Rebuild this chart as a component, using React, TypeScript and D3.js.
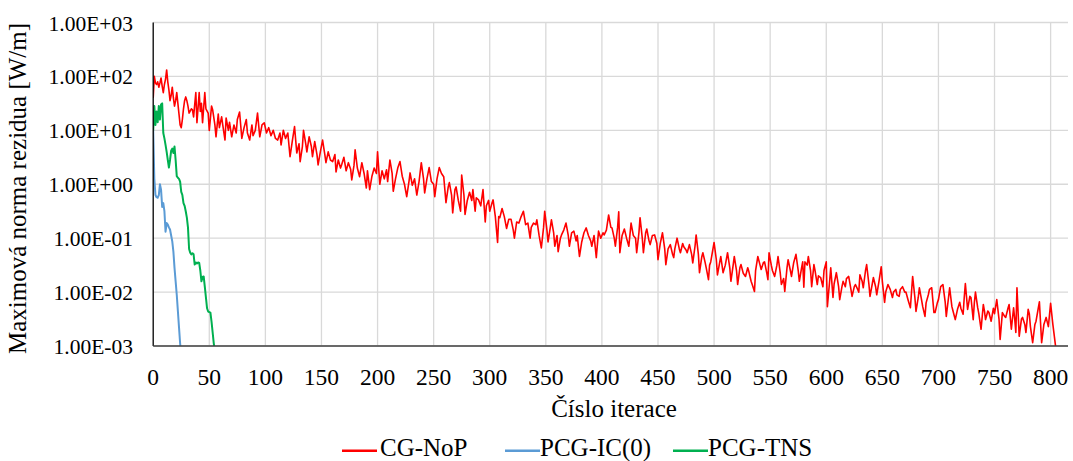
import React from "react";
import * as d3 from "d3";

// ---- data (residuals stored as log10 values) ----
const xTickValues = [0, 50, 100, 150, 200, 250, 300, 350, 400, 450, 500, 550, 600, 650, 700, 750, 800];
const yTickValues = [1e-3, 1e-2, 1e-1, 1e0, 1e1, 1e2, 1e3];
const yTickLabels = ["1.00E-03", "1.00E-02", "1.00E-01", "1.00E+00", "1.00E+01", "1.00E+02", "1.00E+03"];
const seriesNames = ["CG-NoP", "PCG-IC(0)", "PCG-TNS"];
const seriesColors = ["#FF0000", "#5B9BD5", "#00B050"];

// CG-NoP: [iteration, log10(residual)]
const cgNoP: [number, number][] = [
  [0,1.6],[1,2.0],[2,1.88],[3,1.85],[4,1.9],[5,1.8],[6,1.88],[7,1.97],[8,1.82],[9,1.7],[10,1.85],[11,1.95],[12,2.12],[13,1.9],[14,1.75],[15,1.55],[16,1.65],[17,1.8],[18,1.6],[19,1.45],[20,1.55],[21,1.7],[22,1.5],[23,1.3],[24,1.1],[25,1.05],[26,1.2],[27,1.4],[28,1.55],[29,1.62],[30,1.55],[31,1.45],[32,1.32],[34,1.4],[35,1.38],[36,1.25],[38,1.7],[39,1.14],[41,1.7],[42,1.35],[43,1.5],[44,1.14],[46,1.7],[47,1.4],[49,1.32],[50,1.0],[52,1.45],[53,1.38],[55,1.1],[56,0.88],[58,1.3],[59,1.05],[61,1.25],[62,1.1],[64,0.82],[65,1.23],[67,1.0],[68,1.15],[70,0.88],[72,1.1],[74,0.95],[75,1.2],[77,1.34],[79,0.85],[81,1.05],[83,1.2],[84,0.95],[86,0.82],[88,1.1],[89,0.9],[91,1.0],[93,1.32],[95,0.88],[97,1.1],[99,1.14],[101,0.95],[103,1.05],[105,0.9],[107,1.0],[109,0.85],[111,0.82],[113,0.95],[114,0.73],
  [116,1.0],[118,0.85],[120,0.95],[122,0.51],[124,0.8],[126,1.07],[128,0.58],[130,0.75],[131,0.42],[133,0.7],[134,1.0],[136,0.75],[137,0.6],[139,0.88],[141,0.7],[142,0.51],[144,0.79],[146,0.55],[147,0.36],[149,0.6],[151,0.82],[153,0.55],[154,0.4],[156,0.6],[158,0.45],[160,0.42],[162,0.55],[163,0.23],[165,0.45],[167,0.3],[168,0.36],[170,0.5],[172,0.25],[174,0.4],[176,0.28],[177,0.08],[179,0.35],[180,0.64],[182,0.3],[184,0.14],[186,0.4],[188,0.2],[190,-0.07],[191,0.25],[193,-0.1],[195,0.15],[197,0.3],[199,0.2],[200,0.6],[202,0.0],[204,0.25],[206,0.1],[208,0.27],[209,0.05],[211,0.45],[213,0.2],[214,-0.13],[216,0.1],[218,0.3],[220,0.42],[222,0.15],[224,0.0],[226,-0.23],[228,0.05],[229,0.21],
  [231,-0.02],[233,0.1],[235,-0.2],[237,0.05],[239,0.4],[241,0.1],[242,-0.16],[244,0.1],[246,0.31],[248,0.05],[250,0.0],[251,-0.23],[253,0.1],[255,0.31],[257,0.2],[259,0.14],[261,-0.34],[263,-0.05],[264,0.03],[266,-0.2],[267,-0.53],[269,-0.1],[270,-0.05],[272,-0.3],[274,-0.5],[275,0.17],[277,-0.2],[278,-0.56],[280,-0.3],[282,-0.15],[284,-0.3],[285,-0.1],[287,-0.5],[288,-0.25],[290,-0.29],[292,-0.4],[294,-0.1],[296,-0.7],[297,-0.4],[299,-0.3],[300,-0.5],[302,-0.35],[303,-0.29],[305,-0.6],[307,-1.08],[308,-0.6],[309,-0.62],[311,-0.45],[313,-0.6],[315,-0.82],[317,-0.65],[319,-0.65],[321,-0.85],[322,-1.0],[324,-0.7],[326,-0.72],[328,-0.6],[330,-0.5],[332,-0.75],[334,-0.72],[336,-1.0],[337,-0.8],[339,-0.72],[341,-0.75],[342,-0.66],[344,-0.95],[346,-1.18],
  [348,-0.8],[349,-0.5],[351,-0.85],[352,-1.07],[354,-0.8],[355,-0.66],[357,-0.9],[358,-1.15],[360,-0.95],[361,-1.25],[363,-1.0],[364,-0.94],[366,-0.85],[368,-0.72],[370,-0.95],[371,-1.15],[373,-0.9],[375,-0.87],[377,-1.05],[378,-0.95],[380,-1.34],[382,-1.07],[384,-0.9],[386,-0.81],[388,-0.95],[390,-1.05],[391,-1.15],[393,-0.95],[395,-1.36],[397,-0.87],[399,-1.0],[401,-0.9],[402,-0.94],[404,-0.85],[406,-0.57],[408,-0.8],[409,-0.81],[411,-1.0],[412,-1.15],[414,-0.8],[415,-0.51],[416,-1.27],[418,-0.95],[420,-0.83],[422,-1.0],[424,-1.15],[426,-0.72],[428,-0.95],[430,-1.0],[431,-1.27],[433,-0.9],[434,-0.62],[436,-1.0],[437,-1.27],[439,-0.9],[440,-0.83],[442,-1.05],[443,-1.12],[445,-0.95],[447,-0.94],[449,-1.1],[450,-1.4],[452,-1.1],[454,-0.9],[456,-1.2],[457,-1.49],[459,-1.2],[461,-1.12],[463,-1.3],[464,-1.36],
  [465,-1.2],[467,-1.0],[469,-1.2],[470,-1.27],[472,-1.1],[473,-1.16],[475,-1.22],[476,-1.27],[478,-1.12],[480,-1.3],[481,-1.46],[483,-1.15],[484,-0.94],[486,-1.3],[487,-1.64],[489,-1.35],[490,-1.27],[492,-1.45],[493,-1.55],[495,-1.77],[496,-1.5],[497,-1.44],[499,-1.2],[500,-1.08],[502,-1.4],[503,-1.68],[505,-1.45],[506,-1.34],[508,-1.64],[510,-1.5],[512,-1.27],[514,-1.55],[515,-1.8],[517,-1.5],[518,-1.34],[520,-1.6],[521,-1.86],[523,-1.55],[524,-1.49],[526,-1.65],[528,-1.71],[530,-1.55],[531,-1.62],[533,-1.8],[534,-1.86],[536,-1.99],[537,-1.6],[539,-1.34],[541,-1.5],[542,-1.58],[544,-1.45],[545,-1.44],[547,-1.65],[548,-1.77],[549,-1.27],[551,-1.5],[552,-1.6],[554,-1.71],[556,-1.5],[557,-1.34],[559,-1.65],[560,-1.86],[562,-1.75],[563,-1.99],[565,-1.55],[566,-1.4],[568,-1.6],[569,-1.71],[571,-1.45],[573,-1.3],[575,-1.6],[576,-1.8],[578,-1.55],[579,-1.44],
  [580,-1.91],[581,-1.44],[583,-1.5],[584,-1.34],[586,-1.6],[587,-1.9],[589,-1.49],[590,-1.6],[592,-1.86],[593,-1.7],[595,-1.73],[597,-1.9],[598,-1.6],[600,-1.44],[601,-2.27],[603,-1.8],[604,-1.55],[606,-2.1],[607,-1.85],[609,-1.64],[611,-1.9],[612,-2.14],[614,-1.9],[615,-1.8],[617,-1.9],[618,-1.75],[620,-1.71],[622,-1.95],[623,-2.08],[625,-1.9],[626,-1.86],[628,-1.95],[629,-2.0],[630,-1.68],[632,-1.8],[633,-1.92],[635,-1.6],[636,-1.49],[638,-1.85],[639,-2.08],[641,-1.85],[642,-1.73],[644,-1.9],[645,-2.05],[647,-1.8],[649,-1.53],[650,-1.8],[652,-2.19],[653,-2.0],[655,-1.86],[657,-1.95],[659,-2.1],[660,-2.0],[662,-1.95],[663,-2.05],[665,-2.08],[666,-1.95],[668,-1.9],[670,-2.0],[671,-2.0],[673,-2.15],[675,-2.29],[676,-2.0],[677,-1.71],[679,-2.1],[680,-2.36],[682,-2.1],[683,-1.92],[685,-2.15],[686,-2.27],[688,-2.45],[689,-2.2],[691,-2.05],[692,-1.95],[694,-1.92],[696,-2.38],
  [697,-2.38],[699,-2.2],[700,-2.14],[702,-1.9],[704,-1.86],[706,-2.18],[707,-2.45],[709,-2.1],[710,-1.92],[712,-2.27],[713,-2.35],[715,-2.51],[717,-2.32],[719,-2.19],[720,-2.3],[722,-2.41],[723,-2.1],[724,-1.84],[726,-2.32],[728,-2.08],[729,-2.1],[731,-2.51],[732,-2.2],[733,-2.0],[735,-2.29],[736,-2.4],[738,-2.69],[740,-2.23],[741,-2.35],[742,-2.51],[744,-2.35],[745,-2.38],[747,-2.54],[749,-2.3],[750,-2.4],[752,-2.14],[754,-2.5],[755,-2.88],[757,-2.38],[759,-2.45],[760,-2.47],[762,-2.3],[763,-2.23],[765,-2.69],[767,-2.29],[768,-2.5],[769,-2.75],[770,-1.92],[772,-2.82],[774,-2.5],[775,-2.47],[777,-2.6],[778,-2.75],[780,-2.32],[781,-2.4],[782,-2.64],[784,-2.94],[786,-2.6],[787,-2.54],[789,-2.3],[790,-2.18],[792,-2.94],[794,-2.6],[796,-2.47],[798,-2.64],[800,-2.21],[802,-2.6],[805,-3.1],
];

// PCG-IC(0): log10(residual) for iterations 0, 1, 2, ...
const pcgIC0Log10 = [1.0, 0.1, -0.2, -0.24, -0.25, -0.2, 0.0, -0.1, -0.42, -0.35, -0.5, -0.88, -0.72, -0.75, -0.8, -0.84, -0.95, -1.06, -1.25, -1.55, -1.8, -2.05, -2.35, -2.65, -2.95, -3.2];

// PCG-TNS: log10(residual) for iterations 0, 1, 2, ...
const pcgTNSLog10 = [1.0, 1.45, 1.1, 1.35, 1.15, 1.45, 1.2, 1.48, 1.5, 0.95, 0.85, 0.73, 0.6, 0.45, 0.31, 0.45, 0.62, 0.66, 0.58, 0.7, 0.45, 0.15, 0.12, 0.1, 0.05, -0.14, -0.2, -0.35, -0.4, -0.5, -0.62, -0.8, -1.2, -1.27, -1.3, -1.28, -1.3, -1.49, -1.45, -1.47, -1.45, -1.46, -1.6, -1.8, -1.72, -1.71, -1.9, -2.1, -2.3, -2.36, -2.37, -2.38, -2.55, -2.75, -2.95, -3.1];

const xTitle = "Číslo iterace";
const yTitle = "Maximová norma rezidua [W/m]";

// ---- layout ----
const W = 1073;
const H = 461;
const left = 153.2;
const right = 1068;
const top = 22.5;
const bottom = 346;
const FONT = "Liberation Serif, Times New Roman, serif";

export default function App() {
  const x = d3.scaleLinear().domain([0, 815.5]).range([left, right]);
  const y = d3.scaleLog().domain([1e-3, 1e3]).range([bottom, top]);

  const line = d3
    .line<[number, number]>()
    .x((d) => x(d[0]))
    .y((d) => y(Math.pow(10, d[1])));

  const series: [number, number][][] = [
    cgNoP,
    pcgIC0Log10.map((v, i) => [i, v] as [number, number]),
    pcgTNSLog10.map((v, i) => [i, v] as [number, number]),
  ];
  const widths = [1.6, 2, 2];

  const legendItems = [
    { lx: 342, tx: 380 },
    { lx: 505, tx: 540 },
    { lx: 673, tx: 708 },
  ];

  const txt = { fontFamily: FONT, fill: "#000" } as React.CSSProperties;

  return (
    <svg
      width={W}
      height={H}
      style={{ position: "absolute", left: 0, top: 0, background: "#fff" }}
    >
      <defs>
        <clipPath id="plotClip">
          <rect x={left} y={top - 2} width={right - left + 2} height={bottom - top + 2} />
        </clipPath>
      </defs>
      <rect x={0} y={0} width={W} height={H} fill="#fff" />

      {/* gridlines */}
      {yTickValues.map((t) => (
        <line key={"gy" + t} x1={left} x2={right} y1={y(t)} y2={y(t)} stroke="#D9D9D9" strokeWidth={1.3} />
      ))}
      {xTickValues.filter((t) => t > 0).map((t) => (
        <line key={"gx" + t} x1={x(t)} x2={x(t)} y1={top} y2={bottom} stroke="#D9D9D9" strokeWidth={1.3} />
      ))}

      {/* series */}
      <g clipPath="url(#plotClip)">
        {series.map((s, i) => (
          <path
            key={seriesNames[i]}
            d={line(s) || ""}
            fill="none"
            stroke={seriesColors[i]}
            strokeWidth={widths[i]}
            strokeLinejoin="round"
          />
        ))}
      </g>

      {/* axes */}
      <line x1={left} x2={left} y1={top} y2={bottom} stroke="#000" strokeWidth={1.3} />
      <line x1={left} x2={right} y1={bottom} y2={bottom} stroke="#404040" strokeWidth={1.3} />

      {/* y tick labels */}
      {yTickValues.map((t, i) => (
        <text key={"ly" + t} x={133} y={y(t) + 8} textAnchor="end" fontSize={21.5} style={txt}>
          {yTickLabels[i]}
        </text>
      ))}
      {/* x tick labels */}
      {xTickValues.map((t) => (
        <text key={"lx" + t} x={x(t)} y={385} textAnchor="middle" fontSize={23.5} style={txt}>
          {t}
        </text>
      ))}

      {/* titles */}
      <text x={614} y={417} textAnchor="middle" fontSize={25} style={txt}>
        {xTitle}
      </text>
      <text
        transform={`translate(26, 188.5) rotate(-90)`}
        textAnchor="middle"
        fontSize={25}
        style={txt}
      >
        {yTitle}
      </text>

      {/* legend */}
      {legendItems.map((it, i) => (
        <g key={"lg" + i}>
          <line x1={it.lx} x2={it.lx + 35} y1={450.7} y2={450.7} stroke={seriesColors[i]} strokeWidth={2.5} />
          <text x={it.tx} y={455.5} fontSize={25} style={txt}>
            {seriesNames[i]}
          </text>
        </g>
      ))}
    </svg>
  );
}
